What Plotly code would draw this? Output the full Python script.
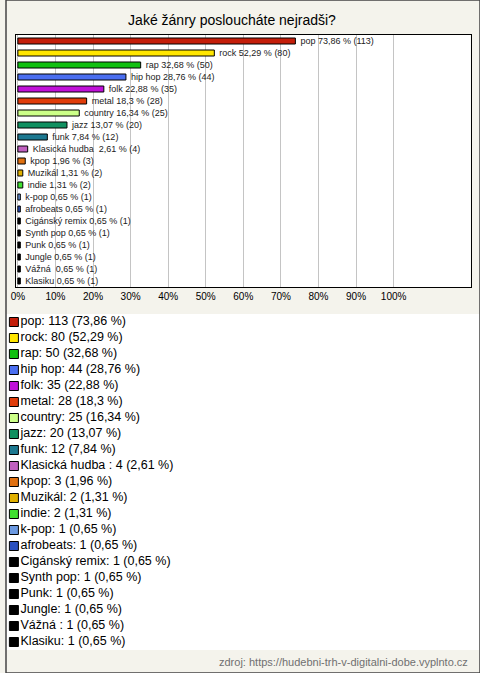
import plotly.graph_objects as go

W, H = 480, 673

genres = ["pop", "rock", "rap", "hip hop", "folk", "metal", "country", "jazz", "funk",
          "Klasická hudba ", "kpop", "Muzikál", "indie", "k-pop", "afrobeats",
          "Cigánský remix", "Synth pop", "Punk", "Jungle", "Vážná ", "Klasiku"]
counts = [113, 80, 50, 44, 35, 28, 25, 20, 12, 4, 3, 2, 2, 1, 1, 1, 1, 1, 1, 1, 1]
percents = [73.86, 52.29, 32.68, 28.76, 22.88, 18.3, 16.34, 13.07, 7.84, 2.61, 1.96,
            1.31, 1.31, 0.65, 0.65, 0.65, 0.65, 0.65, 0.65, 0.65, 0.65]
colors = ["#c41e0a", "#ffe600", "#10c010", "#4a6ef0", "#c010d8", "#e03c0a", "#ccff88",
          "#109060", "#1c7890", "#c060c0", "#e07010", "#e0b000", "#40e030", "#6a98e0",
          "#2a50c0", "#000000", "#000000", "#000000", "#000000", "#000000", "#000000"]
tick_vals = [0, 10, 20, 30, 40, 50, 60, 70, 80, 90, 100]
tick_text = [f"{t}%" for t in tick_vals]

title = "Jaké žánry posloucháte nejradši?"
source = "zdroj: https://hudebni-trh-v-digitalni-dobe.vyplnto.cz"

def fmt(v):
    return f"{v:g}".replace(".", ",")

NB = "\u00a0"
bar_labels = [f"{NB}{NB}{g} {fmt(p)} % ({c})" for g, p, c in zip(genres, percents, counts)]
legend_labels = [f"{g}: {c} ({fmt(p)} %)" for g, p, c in zip(genres, percents, counts)]

FONT = "Liberation Sans, Arial, sans-serif"

fig = go.Figure()

fig.add_trace(go.Bar(
    y=list(range(len(genres))), x=percents, orientation="h",
    marker=dict(color=colors, line=dict(color="#000000", width=1)),
    width=0.5,
    text=bar_labels, textposition="outside", cliponaxis=False, constraintext="none",
    textfont=dict(size=9, color="#222222", family=FONT),
    xaxis="x", yaxis="y", showlegend=False, hoverinfo="skip",
))

# legend built as a scatter on its own axes
fig.add_trace(go.Scatter(
    x=[8] * len(genres), y=list(range(len(genres))),
    mode="markers+text",
    marker=dict(symbol="square", size=9, color=colors, line=dict(color="#000000", width=1)),
    text=legend_labels, textposition="middle right",
    textfont=dict(size=12.5, color="#000000", family=FONT),
    xaxis="x2", yaxis="y2", showlegend=False, hoverinfo="skip", cliponaxis=False,
))

def py(px):
    return (H - px) / H

fig.update_layout(
    width=W, height=H,
    margin=dict(l=0, r=0, t=0, b=0),
    paper_bgcolor="#f4f3ec",
    plot_bgcolor="#ffffff",
    font=dict(family=FONT, color="#000000"),
    title=dict(text=title, x=232 / W, xanchor="center", y=py(20), yanchor="middle",
               font=dict(size=14, color="#000000", family=FONT)),
    xaxis=dict(domain=[10.5 / W, 470.5 / W], range=[-0.4, 120.5],
               tickvals=tick_vals, ticktext=tick_text, showgrid=True,
               gridcolor="#c4c4c4", gridwidth=1, zeroline=False,
               showline=True, linecolor="#000000", linewidth=1, mirror=True,
               ticks="", tickfont=dict(size=10, color="#000000", family=FONT),
               fixedrange=True),
    yaxis=dict(domain=[py(287), py(35)], range=[len(genres) - 0.5, -0.5],
               showticklabels=False, showgrid=False, zeroline=False,
               showline=True, linecolor="#000000", linewidth=1, mirror=True,
               ticks="", fixedrange=True),
    xaxis2=dict(domain=[0, 1], range=[0, W], visible=False, anchor="y2", fixedrange=True),
    yaxis2=dict(domain=[py(650), py(314)], range=[len(genres) - 0.5, -0.5],
                visible=False, anchor="x2", fixedrange=True),
    annotations=[dict(text=source, xref="paper", yref="paper", x=470 / W, y=py(662),
                      xanchor="right", yanchor="middle", showarrow=False,
                      font=dict(size=11, color="#707070", family=FONT))],
    shapes=[dict(type="rect", xref="paper", yref="paper", x0=0, y0=0, x1=1, y1=1,
                 line=dict(color="#444444", width=1.5))],
)

fig.write_html(
    "out.html",
    config={"displayModeBar": False},
    post_script="document.body.style.margin='0';document.body.style.overflow='hidden';",
)
